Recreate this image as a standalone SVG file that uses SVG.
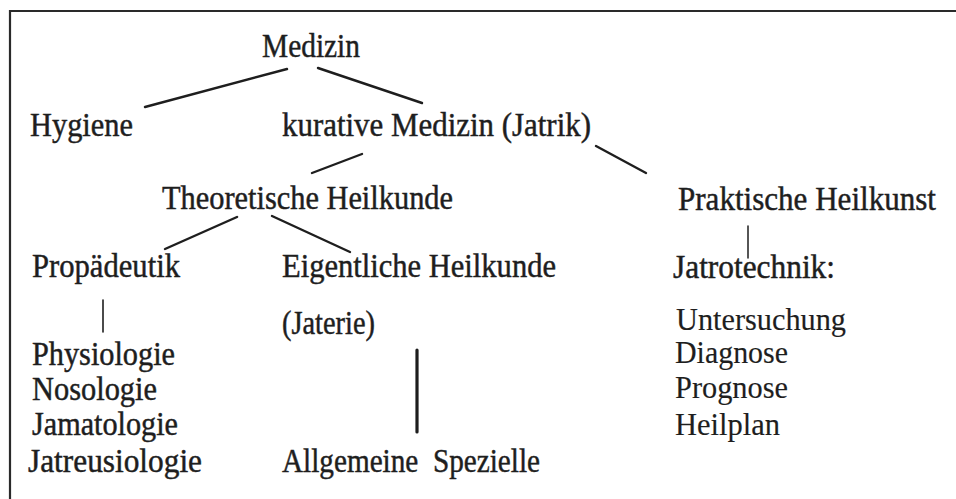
<svg xmlns="http://www.w3.org/2000/svg" width="956" height="499" viewBox="0 0 956 499">
<style>
text{font-family:"Liberation Serif","Times New Roman",serif;font-size:33px;fill:#1e1e1e;stroke:#1e1e1e;stroke-width:0.45}
.lt{font-size:31px;stroke-width:0.15}
.c line{stroke:#1e1e1e;stroke-linecap:round}
.frame{stroke:#2a2a2a;stroke-width:2.2;fill:none}
</style>
<rect width="956" height="499" fill="#fff"/>
<path class="frame" d="M10,499 V11 H956"/>
<g class="c" id="connectors">
<line x1="287" y1="69" x2="145" y2="107" stroke-width="2.4"/>
<line x1="318" y1="68" x2="422" y2="103" stroke-width="2.4"/>
<line x1="362" y1="154" x2="312" y2="173" stroke-width="2.4"/>
<line x1="596" y1="146" x2="646" y2="173" stroke-width="2.4"/>
<line x1="237" y1="217" x2="165" y2="249" stroke-width="2.4"/>
<line x1="272" y1="216" x2="350" y2="252" stroke-width="2.4"/>
<line x1="748" y1="226" x2="748" y2="258" stroke-width="1.5"/>
<line x1="103" y1="300" x2="103" y2="332" stroke-width="1.6"/>
<line x1="417" y1="350" x2="417" y2="432" stroke-width="3.2"/>
</g>
<g id="n-medizin"><text x="262" y="57" textLength="98" lengthAdjust="spacingAndGlyphs">Medizin</text></g>
<g id="n-hygiene"><text x="30" y="136" textLength="103" lengthAdjust="spacingAndGlyphs">Hygiene</text></g>
<g id="n-kurativ"><text x="282" y="136" textLength="309" lengthAdjust="spacingAndGlyphs">kurative Medizin (Jatrik)</text></g>
<g id="n-theor"><text x="162" y="209" textLength="291" lengthAdjust="spacingAndGlyphs">Theoretische Heilkunde</text></g>
<g id="n-prakt"><text x="678" y="210" textLength="258" lengthAdjust="spacingAndGlyphs">Praktische Heilkunst</text></g>
<g id="n-propaed"><text x="32" y="277" textLength="148" lengthAdjust="spacingAndGlyphs">Propädeutik</text><text x="32" y="365" textLength="143" lengthAdjust="spacingAndGlyphs">Physiologie</text><text x="32" y="400" textLength="125" lengthAdjust="spacingAndGlyphs">Nosologie</text><text x="32" y="435" textLength="146" lengthAdjust="spacingAndGlyphs">Jamatologie</text><text x="28" y="472" textLength="174" lengthAdjust="spacingAndGlyphs">Jatreusiologie</text></g>
<g id="n-eigentl"><text x="282" y="277" textLength="274" lengthAdjust="spacingAndGlyphs">Eigentliche Heilkunde</text><text x="282" y="334" textLength="93" lengthAdjust="spacingAndGlyphs">(Jaterie)</text></g>
<g id="n-allg"><text x="282" y="472" xml:space="preserve" textLength="258" lengthAdjust="spacingAndGlyphs">Allgemeine  Spezielle</text></g>
<g id="n-jatro"><text x="673" y="278" textLength="162" lengthAdjust="spacingAndGlyphs">Jatrotechnik:</text><text class="lt" x="676" y="330" textLength="170" lengthAdjust="spacingAndGlyphs">Untersuchung</text><text class="lt" x="675" y="363" textLength="113" lengthAdjust="spacingAndGlyphs">Diagnose</text><text class="lt" x="675" y="398" textLength="113" lengthAdjust="spacingAndGlyphs">Prognose</text><text class="lt" x="675" y="435" textLength="105" lengthAdjust="spacingAndGlyphs">Heilplan</text></g>
</svg>
